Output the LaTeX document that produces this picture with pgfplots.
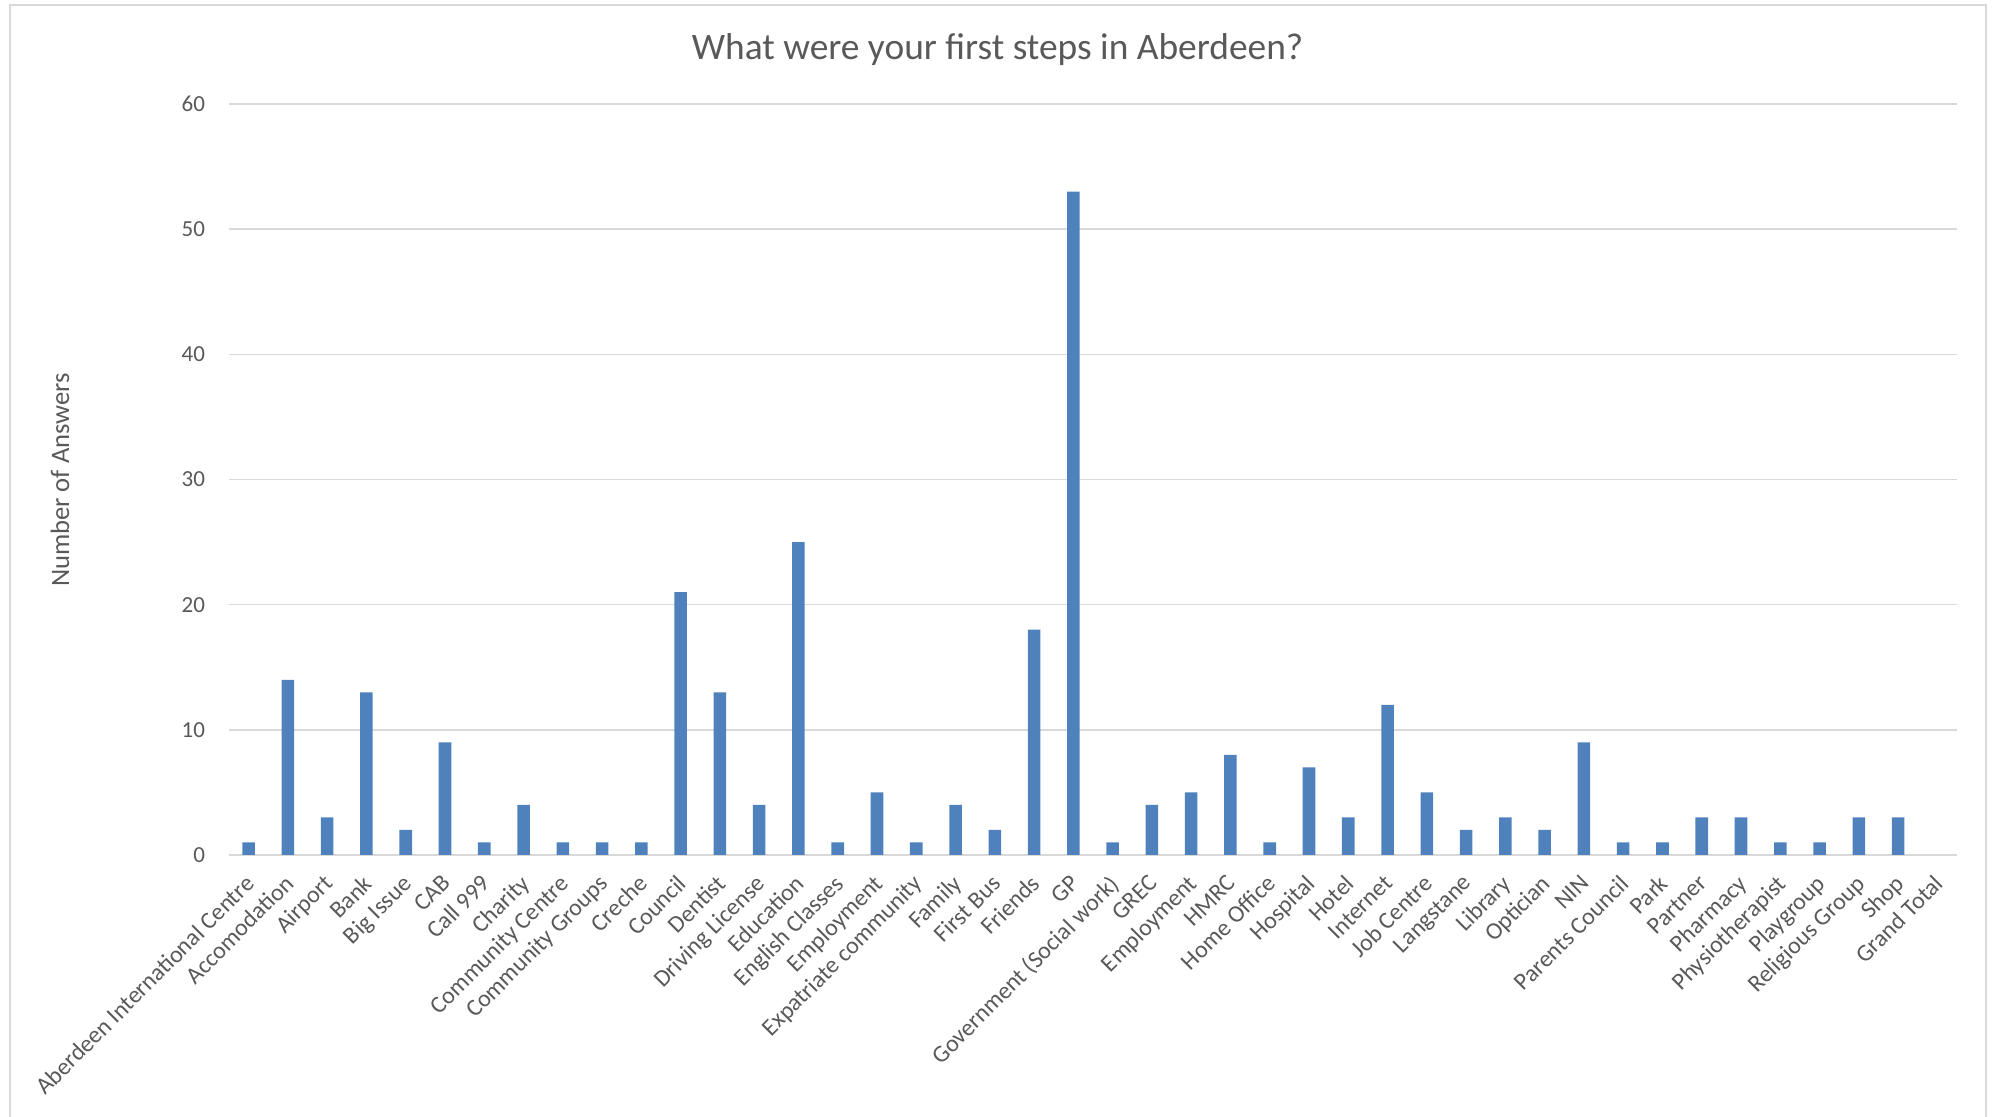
\documentclass[border=0pt]{standalone}
\usepackage{pgfplots}
\pgfplotsset{compat=1.18}
\usepackage{fontspec}
\setmainfont{Carlito}
\definecolor{barblue}{HTML}{4F81BD}
\definecolor{txt}{HTML}{595959}
\definecolor{gridc}{HTML}{D9D9D9}
\begin{document}
\begin{tikzpicture}[x=1pt,y=1pt]
\path[use as bounding box] (0,0) rectangle (997.5,558.5);
\draw[gridc, line width=0.8pt] (5,-2) -- (5,556) -- (993,556) -- (993,-2);
\node[text=txt, font=\fontsize{18.7}{22}\selectfont] at (498.75,533.5) {What were your first steps in Aberdeen?};
\node[text=txt, font=\fontsize{13.3}{16}\selectfont, rotate=90] at (30,318.5) {Number of Answers};
\begin{axis}[
  at={(114.5pt,131pt)}, anchor=south west,
  scale only axis, width=864pt, height=375.5pt,
  xmin=-0.5, xmax=43.5, ymin=0, ymax=60,
  ytick={0,10,...,60},
  xtick={0,...,43},
  xticklabels={{Aberdeen International Centre},{Accomodation},{Airport},{Bank},{Big Issue},{CAB},{Call 999},{Charity},{Community Centre},{Community Groups},{Creche},{Council},{Dentist},{Driving License},{Education},{English Classes},{Employment},{Expatriate community},{Family},{First Bus},{Friends},{GP},{Government (Social work)},{GREC},{Employment},{HMRC},{Home Office},{Hospital},{Hotel},{Internet},{Job Centre},{Langstane},{Library},{Optician},{NIN},{Parents Council},{Park},{Partner},{Pharmacy},{Physiotherapist},{Playgroup},{Religious Group},{Shop},{Grand Total}},
  axis line style={draw=none},
  major tick length=0pt,
  ymajorgrids, grid style={gridc, line width=0.8pt},
  /pgf/number format/assume math mode=true,
  yticklabel style={text=txt, font=\fontsize{11.5}{13}\selectfont, xshift=-8.5pt},
  xticklabel style={text=txt, font=\fontsize{12}{14}\selectfont, xshift=-2.3pt, yshift=-7.6pt, rotate=45, anchor=north east, inner sep=1pt},
]
\addplot[ybar, fill=barblue, draw=none, bar width=0.32] coordinates {
(0,1) (1,14) (2,3) (3,13) (4,2) (5,9) (6,1) (7,4) (8,1) (9,1) (10,1) (11,21) (12,13) (13,4) (14,25) (15,1) (16,5) (17,1) (18,4) (19,2) (20,18) (21,53) (22,1) (23,4) (24,5) (25,8) (26,1) (27,7) (28,3) (29,12) (30,5) (31,2) (32,3) (33,2) (34,9) (35,1) (36,1) (37,3) (38,3) (39,1) (40,1) (41,3) (42,3)
};
\end{axis}
\end{tikzpicture}
\end{document}
